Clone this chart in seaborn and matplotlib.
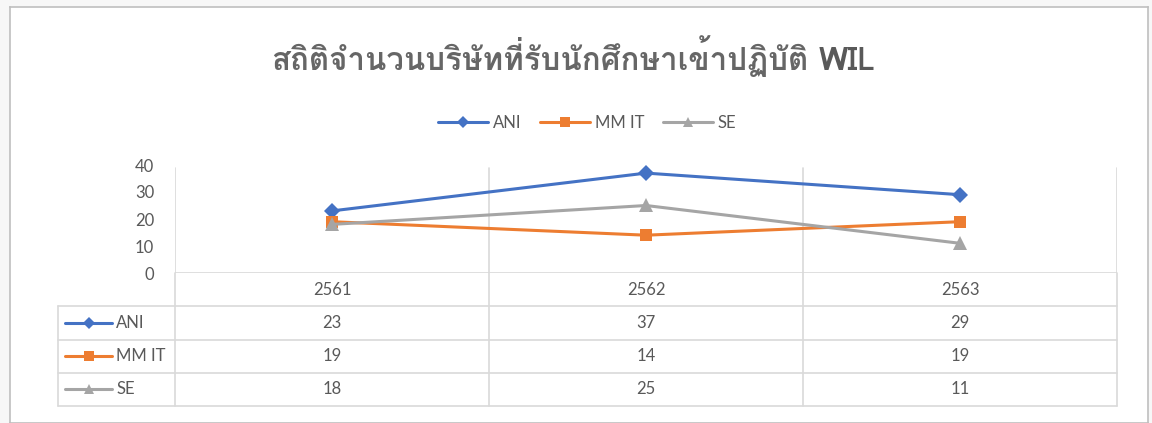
import numpy as np
import pandas as pd
import matplotlib
matplotlib.use("Agg")
import matplotlib.pyplot as plt
from matplotlib import font_manager
from matplotlib.ft2font import FT2Font
from matplotlib.lines import Line2D
import seaborn as sns

# ---- data ----
years = ["2561", "2562", "2563"]
series = ["ANI", "MM IT", "SE"]
ani = [23, 37, 29]
mmit = [19, 14, 19]
se = [18, 25, 11]
yticks = [0, 10, 20, 30, 40]
title_th = "สถิติจำนวนบริษัทที่รับนักศึกษาเข้าปฏิบัติ"
title_en = "WIL"

colors = {"ANI": "#4472C4", "MM IT": "#ED7D31", "SE": "#A5A5A5"}
markers = {"ANI": "D", "MM IT": "s", "SE": "^"}
msizes = {"ANI": 8, "MM IT": 9, "SE": 9.5}
TXT = "#595959"
GRID = "#D9D9D9"

# find a font with Thai glyphs
thai_font = None
for f in font_manager.fontManager.ttflist:
    try:
        cm = FT2Font(f.fname).get_charmap()
        if 0x0E2A in cm and 0x0E34 in cm:
            thai_font = f.name
            break
    except Exception:
        pass

sns.set_theme(style="white")
plt.rcParams["font.family"] = ["Lato", "DejaVu Sans"]
title_family = [thai_font, "DejaVu Sans"] if thai_font else ["DejaVu Sans"]

df = pd.DataFrame({
    "year": years * 3,
    "x": list(range(len(years))) * 3,
    "value": ani + mmit + se,
    "series": ["ANI"] * 3 + ["MM IT"] * 3 + ["SE"] * 3,
})

W, H = 1152, 423
fig = plt.figure(figsize=(W / 100, H / 100), dpi=100)
fig.patch.set_facecolor("#F7F7F7")


def fx(px):
    return px / W


def fy(py):
    return 1 - py / H


# chart frame (background axes)
bg = fig.add_axes([fx(10), 0, fx(1148) - fx(10), fy(7)], zorder=-5)
bg.set_xticks([])
bg.set_yticks([])
bg.set_facecolor("white")
for sp in bg.spines.values():
    sp.set_color("#BFBFBF")
    sp.set_linewidth(1.2)

L, R, T, B = 175, 1117, 165, 273
ax = fig.add_axes([fx(L), fy(B), fx(R) - fx(L), fy(T) - fy(B)], zorder=2)
ax.set_facecolor("none")

sns.lineplot(data=df, x="x", y="value", hue="series", style="series",
             palette=colors, markers=markers, dashes=False, lw=2.2,
             markersize=8, markeredgewidth=0, ax=ax, legend=False)
for line, s in zip(ax.lines, series):
    line.set_markersize(msizes[s])

ax.set_xlim(-0.5, len(years) - 0.5)
ax.set_ylim(0, 40)
ax.set_yticks(yticks)
ax.set_yticklabels([str(t) for t in yticks], color=TXT, fontsize=12)
ax.tick_params(axis="y", length=0, pad=15)
ax.set_xticks([])
ax.set_xlabel("")
ax.set_ylabel("")
for sp in ax.spines.values():
    sp.set_visible(False)
ax.axhline(0, color=GRID, lw=1.2, zorder=0)

# data table axes
TL = 58
TB = 406
catw = (R - L) / len(years)
tax = fig.add_axes([fx(TL), fy(TB), fx(R) - fx(TL), fy(B) - fy(TB)], zorder=1)
tax.set_facecolor("none")
x0 = -0.5 - (L - TL) / catw
nrow = len(series) + 1
tax.set_xlim(x0, len(years) - 0.5)
tax.set_ylim(nrow, 0)
tax.axis("off")

# vertical category lines (through plot and table)
for b in np.arange(-0.5, len(years), 1.0):
    ax.axvline(b, ymax=0.97, color=GRID, lw=1.2, zorder=0)
    tax.plot([b, b], [0, nrow], color=GRID, lw=1.2, clip_on=False)
tax.plot([x0, x0], [1, nrow], color=GRID, lw=1.2, clip_on=False)
for r in range(1, nrow + 1):
    tax.plot([x0, len(years) - 0.5], [r, r], color=GRID, lw=1.2, clip_on=False)

for i, y in enumerate(years):
    tax.text(i, 0.5, y, ha="center", va="center", color=TXT, fontsize=12)
vals = {"ANI": ani, "MM IT": mmit, "SE": se}
kx0 = x0 + 7 / catw
kx1 = x0 + 54 / catw
for r, s in enumerate(series, start=1):
    for i, v in enumerate(vals[s]):
        tax.text(i, r + 0.5, str(v), ha="center", va="center", color=TXT, fontsize=12)
    tax.plot([kx0, kx1], [r + 0.5, r + 0.5], color=colors[s], lw=2.2, clip_on=False)
    tax.plot([(kx0 + kx1) / 2], [r + 0.5], color=colors[s], marker=markers[s],
             markersize=msizes[s] - 2, markeredgewidth=0, ls="none", clip_on=False)
    tax.text(kx1 + 4 / catw, r + 0.5, s, ha="left", va="center", color=TXT, fontsize=12)

# legend
handles = [Line2D([0], [0], color=colors[s], lw=2.2, marker=markers[s],
                  markersize=msizes[s] - 2, markeredgewidth=0) for s in series]
fig.legend(handles, series, loc="center", bbox_to_anchor=(fx(587), fy(123)),
           ncol=3, frameon=False, fontsize=12, labelcolor=TXT,
           handlelength=3.0, handletextpad=0.3, columnspacing=1.1)

# title: Thai part + bold WIL, sharing one baseline
base_y = fy(70)
t1 = fig.text(fx(540), base_y, title_th, ha="center", va="baseline", color="#666666",
              fontsize=22.5, family=title_family, fontweight="bold")
t2 = ax.annotate(title_en, xy=(1, base_y), xycoords=(t1, "figure fraction"),
                 xytext=(7, 0), textcoords="offset points", ha="left",
                 va="baseline", color=TXT, fontsize=22.5, fontweight="bold",
                 family=title_family, annotation_clip=False)

fig.savefig("out.png", dpi=100, facecolor=fig.get_facecolor())
